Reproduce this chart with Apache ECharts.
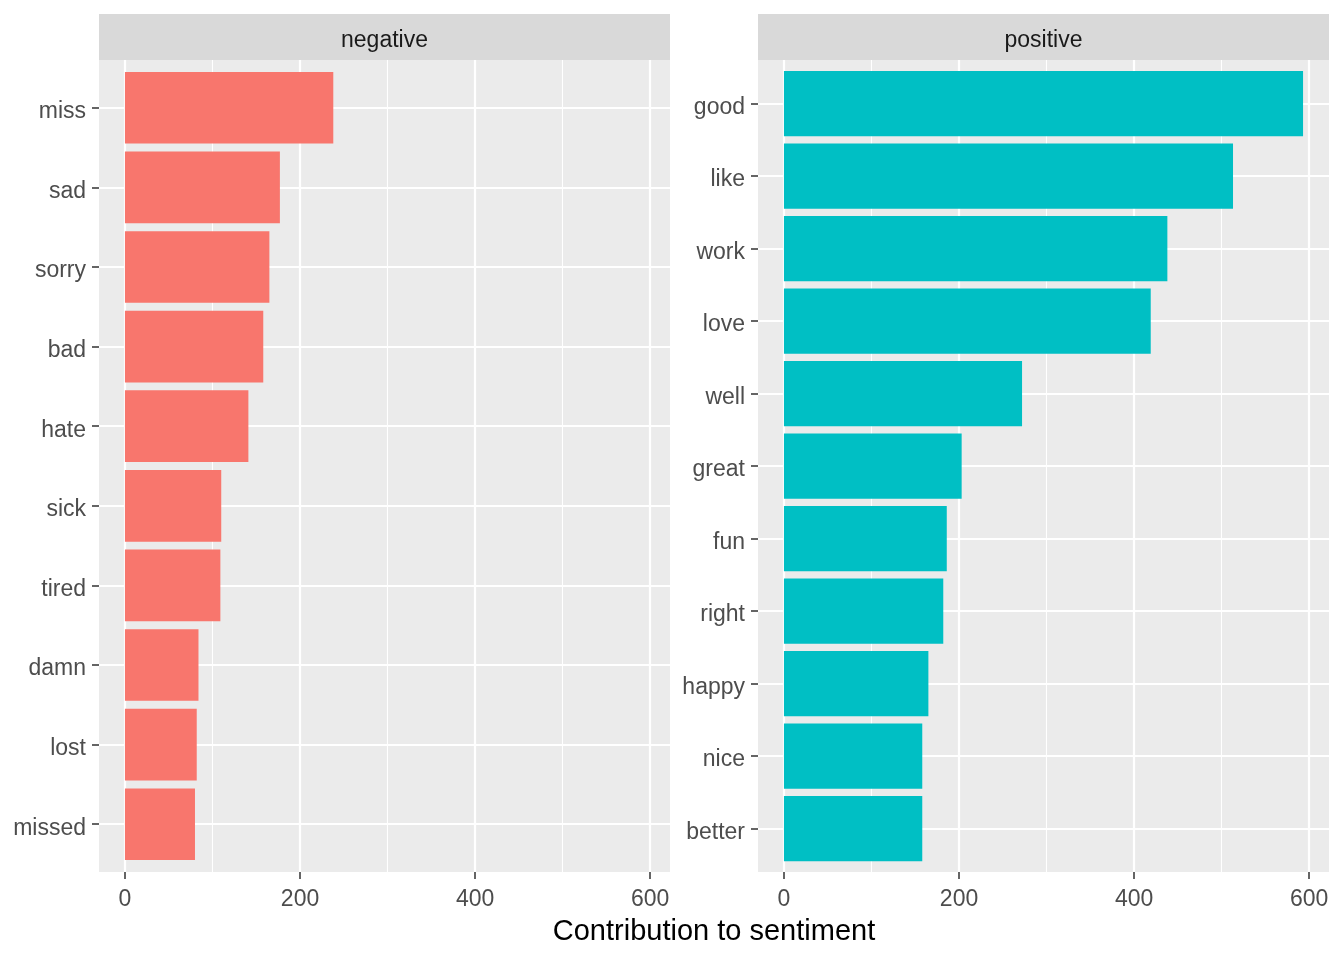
<!DOCTYPE html>
<html>
<head>
<meta charset="utf-8">
<script src="https://cdn.jsdelivr.net/npm/echarts@6/dist/echarts.min.js"></script>
<style>
html,body{margin:0;padding:0;background:#fff;}
#chart{width:1344px;height:960px;}
</style>
</head>
<body>
<div id="chart"></div>
<script>
// ---- data ----
const negWords = ['miss','sad','sorry','bad','hate','sick','tired','damn','lost','missed'];
const negValues = [238,177,165,158,141,110,109,84,82,80];
const posWords = ['good','like','work','love','well','great','fun','right','happy','nice','better'];
const posValues = [593,513,438,419,272,203,186,182,165,158,158];
const xTickMin = 0, xTickMax = 600, xTickStep = 200;
const panelTitles = ['negative','positive'];
const axisTitle = 'Contribution to sentiment';

// ---- layout ----
const FONT = "'Liberation Sans', Arial, sans-serif";
const panelTop = 60, panelH = 812, panelW = 571;
const panelLefts = [99, 758];
const stripTop = 14, stripH = 46;
const dataMax = Math.max(...negValues, ...posValues);
const pad = 0.05 * dataMax;
const xMin = -pad, xMax = dataMax + pad;
const span = xMax - xMin;

const chart = echarts.init(document.getElementById('chart'), null, {renderer:'canvas'});

const grids = [], xAxes = [], yAxes = [], series = [], graphics = [];
const panels = [
  {words: negWords, values: negValues, color: '#F8766D'},
  {words: posWords, values: posValues, color: '#00BFC4'}
];

panels.forEach((p, i) => {
  const L = panelLefts[i];
  const n = p.words.length;
  const unit = panelH / (n + 0.2);
  const inset = 0.1 * unit;
  const px0 = L + (xTickMin - xMin) / span * panelW;
  const px1 = L + (xTickMax - xMin) / span * panelW;
  // grid for vertical grid lines + x axis ticks
  grids.push({left: px0, top: panelTop, width: px1 - px0, height: panelH, containLabel: false});
  // grid for bars + horizontal grid lines
  grids.push({left: L, top: panelTop + inset, width: panelW, height: panelH - 2 * inset, containLabel: false});
  const g0 = 2 * i, g1 = 2 * i + 1;
  xAxes.push({
    gridIndex: g0, type: 'value', min: xTickMin, max: xTickMax, interval: xTickStep,
    axisLine: {show: false, onZero: false},
    axisTick: {show: true, length: 7, lineStyle: {color: '#333333', width: 1.5}},
    axisLabel: {color: '#4D4D4D', fontSize: 23, fontFamily: FONT, margin: 16},
    splitLine: {show: true, lineStyle: {color: '#FFFFFF', width: 2.2}},
    minorTick: {show: false, splitNumber: 2},
    minorSplitLine: {show: true, lineStyle: {color: '#FFFFFF', width: 1.1}}
  });
  xAxes.push({
    gridIndex: g1, type: 'value', min: xMin, max: xMax, show: false,
    axisLine: {onZero: false},
    splitLine: {show: false}
  });
  yAxes.push({gridIndex: g0, type: 'value', min: 0, max: 1, show: false,
    axisLine: {onZero: false}, splitLine: {show: false}});
  yAxes.push({
    gridIndex: g1, type: 'category', data: p.words, inverse: true,
    axisLine: {show: false, onZero: false},
    axisTick: {show: true, alignWithLabel: true, length: 7, lineStyle: {color: '#333333', width: 1.5}},
    axisLabel: {color: '#4D4D4D', fontSize: 23, fontFamily: FONT, margin: 13,
      verticalAlign: 'top', lineHeight: 8},
    splitLine: {show: true, alignWithLabel: true, lineStyle: {color: '#FFFFFF', width: 2.2}}
  });
  series.push({
    type: 'bar', xAxisIndex: g1, yAxisIndex: g1,
    data: p.values, barWidth: '90%', silent: true,
    itemStyle: {color: p.color}, z: 5
  });
  // panel background and strip
  graphics.push({type: 'rect', z: -10, silent: true,
    shape: {x: L, y: panelTop, width: panelW, height: panelH}, style: {fill: '#EBEBEB'}});
  graphics.push({type: 'rect', z: -10, silent: true,
    shape: {x: L, y: stripTop, width: panelW, height: stripH}, style: {fill: '#D9D9D9'}});
  graphics.push({type: 'text', z: 10, silent: true, x: L + panelW / 2, y: stripTop + stripH / 2 + 4,
    style: {text: panelTitles[i], fill: '#1A1A1A', font: '23px ' + FONT, align: 'center', verticalAlign: 'middle'}});
});

graphics.push({type: 'text', z: 10, silent: true,
  x: (panelLefts[0] + panelLefts[1] + panelW) / 2, y: 932,
  style: {text: axisTitle, fill: '#000000', font: '29px ' + FONT, align: 'center', verticalAlign: 'middle'}});

chart.setOption({
  backgroundColor: '#FFFFFF',
  animation: false,
  textStyle: {fontFamily: FONT},
  grid: grids,
  xAxis: xAxes,
  yAxis: yAxes,
  series: series,
  graphic: {elements: graphics}
});
</script>
</body>
</html>
